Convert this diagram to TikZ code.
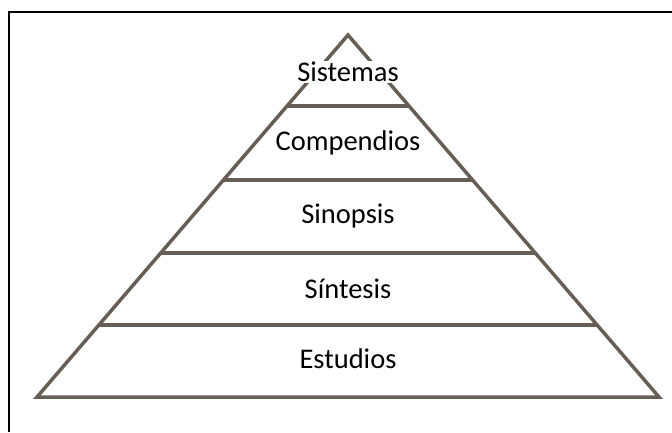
\documentclass[tikz,border=0pt]{standalone}
\usepackage{fontspec}
\setmainfont{Carlito}
\begin{document}
\begin{tikzpicture}[x=1pt,y=-1pt,
  lvl/.style={draw=pyr, line width=3.5pt},
  lbl/.style={font=\fontsize{28.5}{30}\selectfont, text=black, inner sep=1pt}]
\definecolor{pyr}{HTML}{675F55}
\useasboundingbox (0,0) rectangle (672,432);
\draw[black, line width=1.6pt] (672,12) -- (9,12) -- (9,432);
\coordinate (A) at (348,35);
\coordinate (BL) at (37,397);
\coordinate (BR) at (659,397);
\draw[lvl, line join=miter] (BL) -- (A) -- (BR) -- cycle;
\draw[lvl] (287,106) -- (409,106);
\draw[lvl] (223.4,180) -- (472.6,180);
\draw[lvl] (160.7,253) -- (535.3,253);
\draw[lvl] (98.9,325) -- (597.1,325);
\node[lbl, fill=white] (sis) at (348,72) {Sistemas};
\node[lbl] (com) at (348,143) {Compendios};
\node[lbl] (sin) at (348,216) {Sinopsis};
\node[lbl] (snt) at (348,289) {Síntesis};
\node[lbl] (est) at (348,359) {Estudios};
\end{tikzpicture}
\end{document}
